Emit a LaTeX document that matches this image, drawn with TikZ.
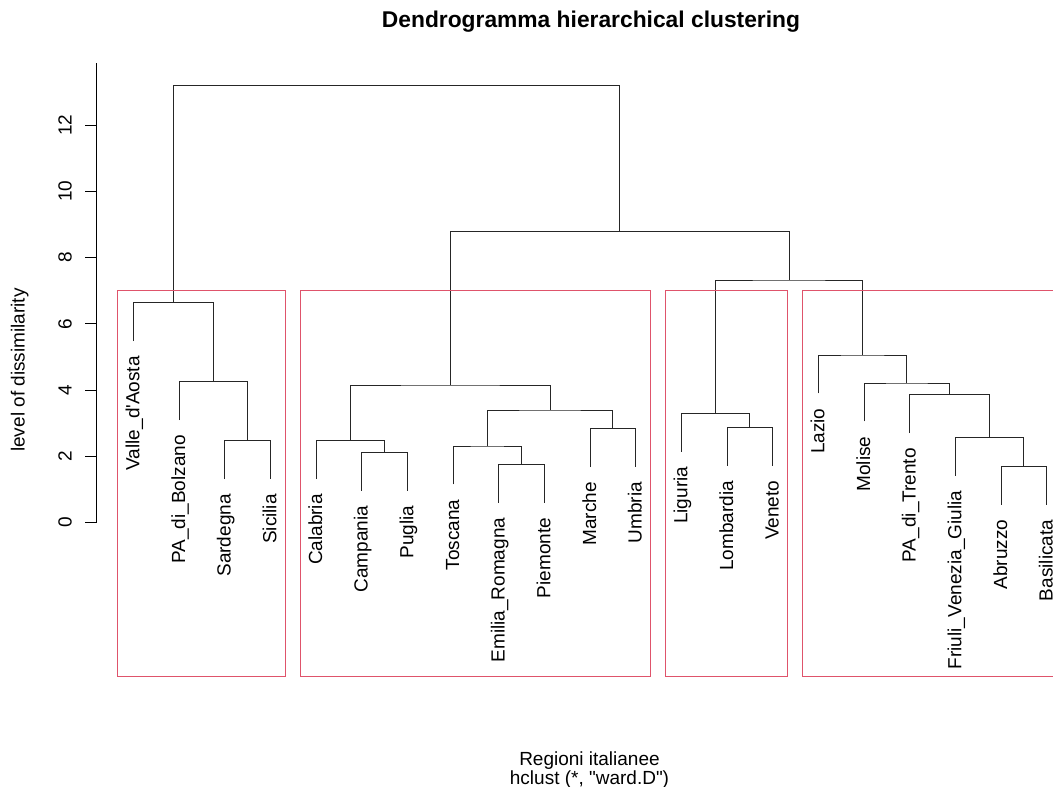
\documentclass[tikz,border=0pt]{standalone}
\usepackage{fontspec}
\setmainfont{Liberation Sans}
\usepackage{tikz}
\usetikzlibrary{positioning}
\definecolor{boxred}{HTML}{DF536B}
\tikzset{
  branch/.style={draw=black!85, line width=1pt},
  clusterbox/.style={draw=boxred, line width=1pt},
  vlab/.style={rotate=90, inner sep=0pt, text height=12pt, text depth=0pt,
    font=\fontsize{19}{22}\selectfont},
  leaflab/.style={vlab, anchor=east},
  plain/.style={inner sep=0pt, anchor=base, font=\fontsize{19}{22}\selectfont}
}

\begin{document}
\begin{tikzpicture}[x=1pt,y=-1pt]
  \useasboundingbox (0,0) rectangle (1053,787);
  \fill[white] (0,0) rectangle (1053,787);
  \clip (0,0) rectangle (1053,787);

  % title and axis texts
  \node[plain, font=\fontsize{22.8}{26}\selectfont\bfseries] (title) at (591,27.3)
    {Dendrogramma hierarchical clustering};
  \node[plain] (xlab) at (589.5,765.7) {Regioni italianee};
  \node[plain] (xsub) at (589.5,784.5)
    {hclust (*, \textquotedbl ward.D\textquotedbl)};
  \node[vlab] (ylab) at (18.5,370) {level of dissimilarity};

  % y axis
  \draw[branch, draw=black] (96.7,522.7) -- (96.7,63.3);
  \foreach \v in {0,2,...,12} {
    \draw[branch, draw=black] (85,{522.7-33.14*\v}) -- (96.7,{522.7-33.14*\v});
    \node[vlab] (tick\v) at (65.5,{522.7-33.14*\v}) {\v};
  }

  % leaves
  \foreach \name/\x/\y/\lab in {
      valle/133.3/341.0/Valle\_d\textquotesingle Aosta,
      bolzano/179.0/420.0/PA\_di\_Bolzano,
      sardegna/224.6/479.0/Sardegna,
      sicilia/270.3/479.0/Sicilia,
      calabria/316.0/479.0/Calabria,
      campania/361.7/490.6/Campania,
      puglia/407.3/490.6/Puglia,
      toscana/453.0/484.3/Toscana,
      emilia/498.7/502.6/Emilia\_Romagna,
      piemonte/544.3/502.6/Piemonte,
      marche/590.0/467.0/Marche,
      umbria/635.7/467.0/Umbria,
      liguria/681.3/451.6/Liguria,
      lombardia/727.0/465.6/Lombardia,
      veneto/772.7/465.6/Veneto,
      lazio/818.4/393.3/Lazio,
      molise/864.0/421.3/Molise,
      trento/909.7/433.0/PA\_di\_Trento,
      friuli/955.4/475.6/Friuli\_Venezia\_Giulia,
      abruzzo/1001.0/504.6/Abruzzo,
      basilicata/1046.7/504.6/Basilicata} {
    \coordinate (\name) at (\x,\y);
    \node[leaflab] (\name-lab) at (\x,\y+15) {\lab};
  }

  % merge points
  \coordinate (sarsic) at (247.5,440.7);
  \coordinate (bolsar) at (213.2,381.7);
  \coordinate (isole) at (173.3,302.7);
  \coordinate (campug) at (384.5,452.3);
  \coordinate (calcp) at (350.2,440.7);
  \coordinate (emipie) at (521.5,464.3);
  \coordinate (tosep) at (487.2,446.0);
  \coordinate (marumb) at (612.8,428.7);
  \coordinate (centro2) at (550.0,410.0);
  \coordinate (centro) at (450.1,385.0);
  \coordinate (lomven) at (749.8,427.3);
  \coordinate (nord) at (715.6,413.3);
  \coordinate (abrbas) at (1023.8,466.3);
  \coordinate (friab) at (989.6,437.3);
  \coordinate (trefr) at (949.6,394.7);
  \coordinate (moltr) at (906.8,383.0);
  \coordinate (sud) at (862.6,355.0);
  \coordinate (est) at (789.1,280.0);
  \coordinate (destra) at (619.6,231.7);
  \coordinate (radice) at (396.5,85.7);

  % branches
  \draw[branch] (sardegna) |- (sarsic) -| (sicilia);
  \draw[branch] (bolzano) |- (bolsar) -| (sarsic);
  \draw[branch] (valle) |- (isole) -| (bolsar);
  \draw[branch] (campania) |- (campug) -| (puglia);
  \draw[branch] (calabria) |- (calcp) -| (campug);
  \draw[branch] (emilia) |- (emipie) -| (piemonte);
  \draw[branch] (toscana) |- (tosep) -| (emipie);
  \draw[branch] (marche) |- (marumb) -| (umbria);
  \draw[branch] (tosep) |- (centro2) -| (marumb);
  \draw[branch] (calcp) |- (centro) -| (centro2);
  \draw[branch] (lombardia) |- (lomven) -| (veneto);
  \draw[branch] (liguria) |- (nord) -| (lomven);
  \draw[branch] (abruzzo) |- (abrbas) -| (basilicata);
  \draw[branch] (friuli) |- (friab) -| (abrbas);
  \draw[branch] (trento) |- (trefr) -| (friab);
  \draw[branch] (molise) |- (moltr) -| (trefr);
  \draw[branch] (lazio) |- (sud) -| (moltr);
  \draw[branch] (nord) |- (est) -| (sud);
  \draw[branch] (centro) |- (destra) -| (est);
  \draw[branch] (isole) |- (radice) -| (destra);

  % cluster boxes
  \draw[clusterbox] (117.7,290.7) rectangle (285.0,676.7);
  \draw[clusterbox] (300.3,290.7) rectangle (650.7,676.7);
  \draw[clusterbox] (665.7,290.7) rectangle (787.7,676.7);
  \draw[clusterbox] (802.8,290.7) rectangle (1061.0,676.7);
\end{tikzpicture}
\end{document}
